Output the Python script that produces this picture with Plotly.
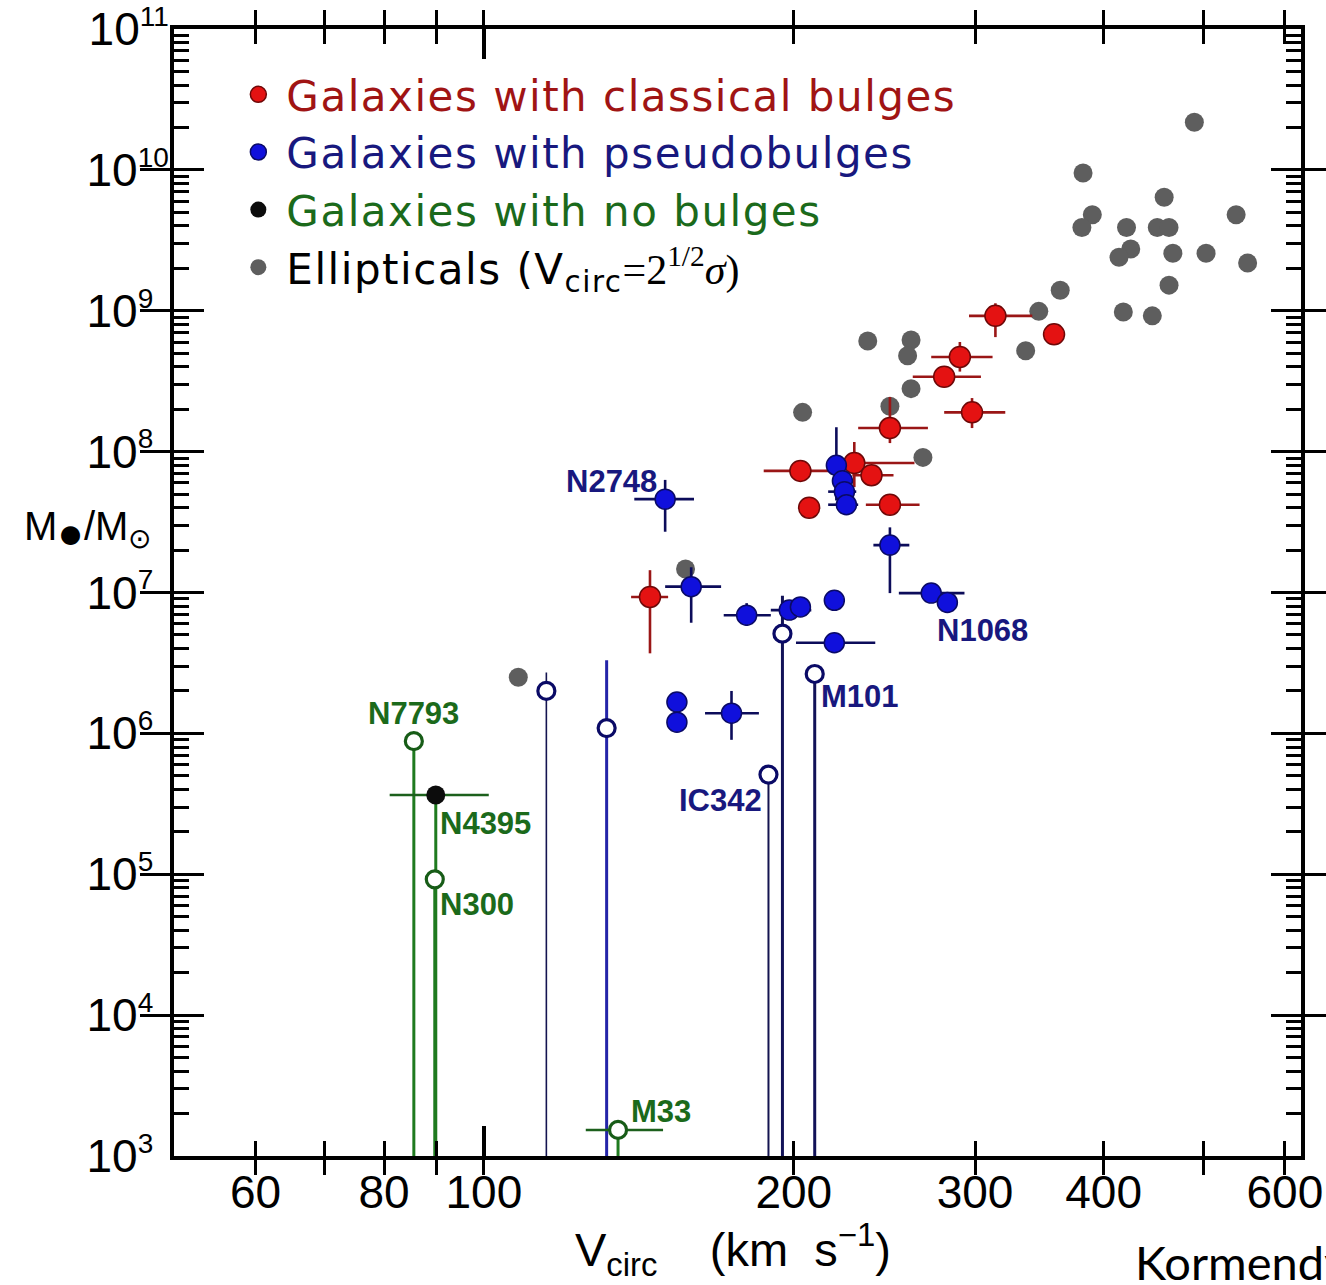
import math
import plotly.graph_objects as go

# ---------------- data: circular velocity (km/s) and black-hole mass (Msun) ----------------

# Ellipticals (Vcirc = sqrt(2) * sigma)
ell_vcirc = [490, 382, 458, 390, 381, 421, 451, 463, 538, 425, 414, 467, 503, 552,
             463, 418, 446, 363, 346, 336, 236, 260, 258, 260, 248, 204, 267, 157, 108]
ell_mbh = [2.18e10, 9.5e9, 6.4e9, 4.8e9, 3.9e9, 3.9e9, 3.9e9, 3.9e9, 4.8e9, 2.74e9,
           2.4e9, 2.56e9, 2.56e9, 2.18e9, 1.52e9, 9.8e8, 9.2e8, 1.4e9, 9.9e8, 5.2e8,
           6.1e8, 6.2e8, 4.8e8, 2.8e8, 2.1e8, 1.9e8, 9.1e7, 1.47e7, 2.5e6]

# Galaxies with classical bulges
cls_vcirc = [314, 358, 290, 280, 298, 248, 203, 229, 238, 207, 248, 145]
cls_mbh = [9.2e8, 6.8e8, 4.7e8, 3.4e8, 1.9e8, 1.47e8, 7.3e7, 8.3e7, 6.8e7, 4.0e7, 4.2e7, 9.3e6]
cls_v_lo = [296, None, 272, 261, 280, 231, 187, 220, 228, None, 235, 139]
cls_v_hi = [341, None, 312, 304, 321, 270, 221, 262, 250, None, 265, 151]
cls_m_lo = [6.5e8, None, 3.7e8, None, 1.47e8, 1.15e8, None, 5.6e7, None, None, None, 3.7e6]
cls_m_hi = [1.13e9, None, 6.0e8, None, 2.4e8, 2.44e8, None, 1.17e8, None, None, None, 1.44e7]

# Galaxies with pseudobulges (detections)
psd_vcirc = [150, 159, 180, 198, 203, 219, 219, 248, 272, 282, 220, 223, 224, 225, 154, 154, 174]
psd_mbh = [4.6e7, 1.1e7, 6.9e6, 7.5e6, 7.9e6, 8.8e6, 4.4e6, 2.17e7, 9.9e6, 8.5e6,
           8.0e7, 6.2e7, 5.2e7, 4.2e7, 1.67e6, 1.2e6, 1.39e6]
psd_v_lo = [140, 150, 171, 190, None, None, 201, 239, 253, None, None, None, 216, 216, None, None, 164]
psd_v_hi = [160, 170, 190, 208, None, None, 240, 259, 293, None, None, None, 230, 231, None, None, 185]
psd_m_lo = [2.7e7, 6.1e6, 5.8e6, None, None, None, None, 9.9e6, None, None,
            4.5e7, None, None, None, 1.45e6, 1.05e6, 9.0e5]
psd_m_hi = [6.3e7, 1.51e7, 8.4e6, None, None, None, None, 2.9e7, None, None,
            1.49e8, None, None, None, 1.9e6, 1.4e6, 2.0e6]

# Pseudobulges with upper limits (open symbols)
psl_vcirc = [115, 131.6, 195, 209.6, 189]
psl_mbh = [2.0e6, 1.09e6, 5.1e6, 2.64e6, 5.1e5]
psl_m_hi = [2.7e6, 3.3e6, 9.5e6, None, None]

# Bulgeless galaxies
nob_names = ["N7793", "N4395", "N300", "M33"]
nob_vcirc = [85.5, 89.8, 89.6, 135]
nob_mbh = [8.8e5, 3.65e5, 9.2e4, 1.53e3]
nob_v_lo = [None, 81.0, None, 125.6]
nob_v_hi = [None, 101.1, None, 149.3]
nob_is_detection = [False, True, False, False]

# Named objects
lab_names = ["N2748", "N1068", "M101", "IC342"]
lab_vcirc = [150, 282, 209.6, 189]
lab_mbh = [4.6e7, 8.5e6, 2.64e6, 5.1e5]

# Axis ranges
X_MIN, X_MAX = 50, 622
Y_MIN, Y_MAX = 1e3, 1e11

x_tick_vals = [60, 70, 80, 90, 100, 200, 300, 400, 500, 600]
x_tick_text = ["60", "", "80", "", "100", "200", "300", "400", "", "600"]

# ---------------- styling ----------------
RED = "#e41212"
RED_EDGE = "#6e0808"
RED_BAR = "#9a1616"
RED_TEXT = "#a01414"
BLUE = "#1010dc"
BLUE_EDGE = "#0a0a66"
BLUE_BAR = "#0c0c5a"
BLUE_TEXT = "#18187e"
GREEN_LINE = "#1f7a1f"
GREEN_TEXT = "#1b6a1b"
GRAY = "#5e5e5e"
TICK_FONT = "Liberation Sans, Arial, sans-serif"
LEGEND_FONT = "DejaVu Sans, Liberation Sans, sans-serif"
SPACED = "letter-spacing:1.5px"


def err_parts(center, lo, hi):
    plus = [(h - c) if h is not None else 0 for c, h in zip(center, hi)]
    minus = [(c - l) if l is not None else 0 for c, l in zip(center, lo)]
    return plus, minus


def decade_label(k):
    # exponent in a smaller superscript; one-digit exponents padded with a
    # transparent digit so that all labels start at the same place
    pad = "" if k >= 10 else "<span style=\"color:rgba(0,0,0,0)\">0</span>"
    return f"10<sup><span style=\"font-size:28px\">{k}{pad}</span></sup>"


fig = go.Figure()

# ---- vertical upper-limit lines running down to the bottom axis ----
psl_line_width = [1.6, 3.0, 3.0, 3.0, 2.0]
psl_line_color = ["#141450", "#2424a8", "#121258", "#121258", "#141450"]
for v, m, mh, w, c in zip(psl_vcirc, psl_mbh, psl_m_hi, psl_line_width, psl_line_color):
    top = mh if mh is not None else m
    fig.add_trace(go.Scatter(x=[v, v], y=[top, Y_MIN], mode="lines",
                             line=dict(color=c, width=w), showlegend=False,
                             hoverinfo="skip"))

for v, m in zip(nob_vcirc, nob_mbh):
    fig.add_trace(go.Scatter(x=[v, v], y=[m, Y_MIN], mode="lines",
                             line=dict(color=GREEN_LINE, width=3), showlegend=False,
                             hoverinfo="skip"))

# ---- ellipticals ----
fig.add_trace(go.Scatter(
    x=ell_vcirc, y=ell_mbh, mode="markers",
    marker=dict(size=19, color=GRAY, line=dict(width=0)),
    name=(f"<span style=\"{SPACED}\">Ellipticals (V<sub>circ</sub></span>"
          "<span style=\"font-family:Liberation Serif\">=2<sup>1/2</sup><i>σ</i>)</span>"),
    legendrank=4,
))

# ---- classical bulges ----
p, mn = err_parts(cls_vcirc, cls_v_lo, cls_v_hi)
pm, mm = err_parts(cls_mbh, cls_m_lo, cls_m_hi)
fig.add_trace(go.Scatter(
    x=cls_vcirc, y=cls_mbh, mode="markers",
    marker=dict(size=21, color=RED, line=dict(width=1.5, color=RED_EDGE)),
    error_x=dict(type="data", symmetric=False, array=p, arrayminus=mn,
                 color=RED_BAR, thickness=2.6, width=0),
    error_y=dict(type="data", symmetric=False, array=pm, arrayminus=mm,
                 color=RED_BAR, thickness=2.6, width=0),
    name=f"<span style=\"color:{RED_TEXT};{SPACED}\">Galaxies with classical bulges</span>",
    legendrank=1,
))

# ---- pseudobulges ----
p, mn = err_parts(psd_vcirc, psd_v_lo, psd_v_hi)
pm, mm = err_parts(psd_mbh, psd_m_lo, psd_m_hi)
fig.add_trace(go.Scatter(
    x=psd_vcirc, y=psd_mbh, mode="markers",
    marker=dict(size=20, color=BLUE, line=dict(width=1.5, color=BLUE_EDGE)),
    error_x=dict(type="data", symmetric=False, array=p, arrayminus=mn,
                 color=BLUE_BAR, thickness=2.6, width=0),
    error_y=dict(type="data", symmetric=False, array=pm, arrayminus=mm,
                 color=BLUE_BAR, thickness=2.6, width=0),
    name=f"<span style=\"color:{BLUE_TEXT};{SPACED}\">Galaxies with pseudobulges</span>",
    legendrank=2,
))

fig.add_trace(go.Scatter(
    x=psl_vcirc, y=psl_mbh, mode="markers",
    marker=dict(size=17, color="white", line=dict(width=3.2, color=BLUE_EDGE)),
    showlegend=False,
))

# ---- bulgeless galaxies ----
open_idx = [i for i, d in enumerate(nob_is_detection) if not d]
det_idx = [i for i, d in enumerate(nob_is_detection) if d]
p, mn = err_parts(nob_vcirc, nob_v_lo, nob_v_hi)
fig.add_trace(go.Scatter(
    x=[nob_vcirc[i] for i in open_idx], y=[nob_mbh[i] for i in open_idx],
    mode="markers",
    marker=dict(size=17, color="white", line=dict(width=3.2, color="#175c17")),
    error_x=dict(type="data", symmetric=False,
                 array=[p[i] for i in open_idx], arrayminus=[mn[i] for i in open_idx],
                 color="#1c601c", thickness=2.6, width=0),
    showlegend=False,
))
fig.add_trace(go.Scatter(
    x=[nob_vcirc[i] for i in det_idx], y=[nob_mbh[i] for i in det_idx],
    mode="markers",
    marker=dict(size=19, color="#0c0c0c", line=dict(width=0)),
    error_x=dict(type="data", symmetric=False,
                 array=[p[i] for i in det_idx], arrayminus=[mn[i] for i in det_idx],
                 color="#1c601c", thickness=2.6, width=0),
    name=f"<span style=\"color:{GREEN_TEXT};{SPACED}\">Galaxies with no bulges</span>",
    legendrank=3,
))

# ---- object labels ----
lab_style = {
    "N2748": dict(xanchor="right", xshift=-6, yshift=18),
    "N1068": dict(xanchor="left", xshift=-12, yshift=-28),
    "M101": dict(xanchor="left", xshift=4, yshift=-23),
    "IC342": dict(xanchor="right", xshift=-4, yshift=-26),
    "N7793": dict(xanchor="center", xshift=0, yshift=28),
    "N4395": dict(xanchor="left", xshift=2, yshift=-28),
    "N300": dict(xanchor="left", xshift=3, yshift=-25),
    "M33": dict(xanchor="left", xshift=11, yshift=18),
}
for name, v, m in zip(lab_names, lab_vcirc, lab_mbh):
    fig.add_annotation(x=math.log10(v), y=math.log10(m), text=f"<b>{name}</b>",
                       showarrow=False, yanchor="middle",
                       font=dict(family=TICK_FONT, size=31, color=BLUE_TEXT),
                       **lab_style[name])
for name, v, m in zip(nob_names, nob_vcirc, nob_mbh):
    fig.add_annotation(x=math.log10(v), y=math.log10(m), text=f"<b>{name}</b>",
                       showarrow=False, yanchor="middle",
                       font=dict(family=TICK_FONT, size=31, color=GREEN_TEXT),
                       **lab_style[name])

# ---- axis titles and credit ----
fig.add_annotation(xref="paper", yref="paper", x=0.496, y=-0.083,
                   xanchor="center", yanchor="middle",
                   text="V<sub>circ</sub>\u00a0\u00a0\u00a0\u00a0(km\u00a0\u00a0s<sup>−1</sup>)",
                   showarrow=False,
                   font=dict(family=TICK_FONT, size=47, color="black"))
fig.add_annotation(xref="paper", yref="paper", x=-0.077, y=0.555,
                   xanchor="center", yanchor="middle",
                   text="M<sub><span style=\"font-size:44px\">●</span></sub>/M<sub>⊙</sub>",
                   showarrow=False,
                   font=dict(family=TICK_FONT, size=40, color="black"))
fig.add_annotation(xref="paper", yref="paper", x=0.8505, y=-0.094, xanchor="left",
                   yanchor="middle",
                   text="Kormendy", showarrow=False,
                   font=dict(family="Lato, Noto Sans, sans-serif", size=47, color="black"))

y_decades = list(range(3, 12))
y_minor = [k * 10 ** e for e in range(3, 11) for k in range(2, 10)]
EPS = 1e-4

fig.update_layout(
    width=1326, height=1285,
    margin=dict(l=174, r=25, t=29, b=129, autoexpand=False),
    paper_bgcolor="white", plot_bgcolor="white",
    legend=dict(x=0.05, y=0.972, xanchor="left", yanchor="top",
                font=dict(family=LEGEND_FONT, size=42, color="black"),
                bgcolor="rgba(0,0,0,0)", itemsizing="trace", itemwidth=46,
                tracegroupgap=0),
    xaxis=dict(type="log", range=[math.log10(X_MIN), math.log10(X_MAX)],
               tickmode="array", tickvals=x_tick_vals, ticktext=x_tick_text,
               ticks="inside", ticklen=15, tickwidth=3, tickcolor="black",
               showline=True, linewidth=4, linecolor="black", mirror="allticks",
               showgrid=False, zeroline=False, ticklabelstandoff=-7, automargin=False,
               tickfont=dict(family=TICK_FONT, size=46, color="black")),
    xaxis2=dict(type="log", range=[math.log10(X_MIN), math.log10(X_MAX)],
                overlaying="x", anchor="y", tickmode="array", tickvals=[100],
                ticks="inside", ticklen=30, tickwidth=3.5, tickcolor="black",
                showticklabels=False, showline=False, mirror="allticks",
                showgrid=False, zeroline=False, automargin=False),
    yaxis=dict(type="log", range=[3 - EPS, 11 + EPS],
               tickmode="array", tickvals=[10 ** k for k in y_decades],
               ticktext=[decade_label(k) for k in y_decades],
               ticks="inside", ticklen=30, tickwidth=3, tickcolor="black",
               showline=True, linewidth=4, linecolor="black", mirror="allticks",
               showgrid=False, zeroline=False, ticklabelstandoff=-8,
               ticklabeloverflow="allow", automargin=False,
               tickfont=dict(family=TICK_FONT, size=46, color="black")),
    yaxis2=dict(type="log", range=[3 - EPS, 11 + EPS], overlaying="y", anchor="x",
                tickmode="array", tickvals=y_minor,
                ticks="inside", ticklen=15, tickwidth=2.5, tickcolor="black",
                showticklabels=False, showline=False, mirror="allticks",
                showgrid=False, zeroline=False, automargin=False),
)

# invisible traces so the overlay axes carrying the extra ticks are drawn
fig.add_trace(go.Scatter(x=[], y=[], xaxis="x2", showlegend=False, hoverinfo="skip"))
fig.add_trace(go.Scatter(x=[], y=[], yaxis="y2", showlegend=False, hoverinfo="skip"))

fig.write_html("out.html")
